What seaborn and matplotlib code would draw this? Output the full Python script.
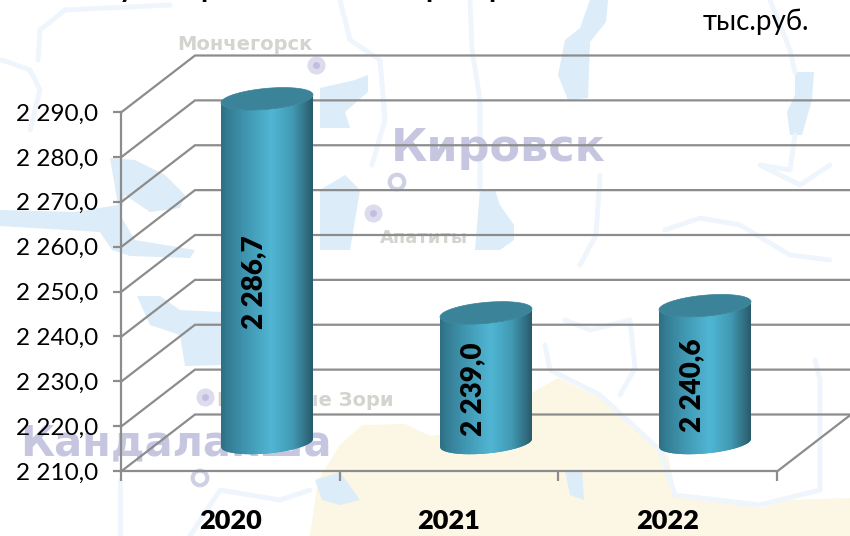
import numpy as np
import pandas as pd
import matplotlib
matplotlib.use("Agg")
import matplotlib.pyplot as plt
import seaborn as sns
from matplotlib.patches import Polygon, PathPatch
from matplotlib.path import Path
from matplotlib.colors import LinearSegmentedColormap

# ---------- data ----------
years = ["2020", "2021", "2022"]
amounts = [2286.7, 2239.0, 2240.6]
amount_labels = ["2 286,7", "2 239,0", "2 240,6"]
axis_values = [2210, 2220, 2230, 2240, 2250, 2260, 2270, 2280, 2290]
axis_labels = ["2 210,0", "2 220,0", "2 230,0", "2 240,0", "2 250,0",
               "2 260,0", "2 270,0", "2 280,0", "2 290,0"]
unit_label = "тыс.руб."

# watermark map behind the chart (picture pixels)
map_land = [
    [(310, 536), (318, 480), (340, 445), (362, 425), (405, 424), (430, 436), (470, 430), (520, 400),
     (558, 378), (600, 398), (630, 425), (668, 455), (676, 495), (700, 498), (760, 508), (790, 500),
     (850, 498), (850, 536)],
]
map_lakes = [
    [(110, 158), (135, 160), (165, 175), (185, 195), (180, 208), (150, 212), (125, 195), (120, 215),
     (135, 240), (195, 250), (190, 258), (130, 256), (112, 250), (100, 232), (0, 226), (0, 210), (75, 212), (118, 205)],
    [(137, 296), (160, 296), (180, 310), (222, 312), (222, 365), (185, 366), (180, 335), (150, 325)],
    [(590, 0), (608, 0), (606, 22), (590, 42), (588, 98), (568, 100), (558, 75), (565, 40), (580, 28)],
    [(795, 72), (814, 72), (812, 100), (802, 135), (790, 135), (787, 112), (795, 95)],
    [(480, 190), (495, 190), (500, 205), (514, 225), (514, 240), (500, 250), (475, 250)],
    [(320, 88), (355, 80), (368, 75), (368, 92), (345, 112), (350, 128), (320, 128)],
    [(320, 190), (345, 175), (360, 190), (350, 250), (320, 250)],
    [(315, 480), (340, 472), (360, 500), (340, 505), (322, 500)],
    [(565, 470), (582, 470), (584, 500), (570, 495)],
]
map_rivers = [
    [(2, 60), (30, 70), (40, 90), (30, 130)],
    [(170, 5), (65, 10), (40, 30), (38, 60)],
    [(340, 0), (350, 40), (380, 60), (385, 120), (372, 165)],
    [(470, 0), (472, 50), (480, 100), (480, 190)],
    [(770, 0), (790, 50), (795, 72)],
    [(795, 135), (790, 170), (760, 165), (800, 185), (830, 165)],
    [(665, 230), (700, 218), (740, 225), (790, 255), (830, 260)],
    [(600, 175), (596, 235), (580, 265)],
    [(565, 320), (590, 330), (630, 320), (635, 368), (620, 395)],
    [(545, 345), (550, 370), (600, 395), (660, 450), (675, 495)],
    [(675, 495), (760, 505), (820, 490), (820, 380), (815, 360)],
    [(120, 480), (120, 536)],
    [(310, 490), (280, 500), (220, 490), (190, 536)],
]
map_big_names = [("Кировск", 498, 149, 32), ("Кандалакша", 176, 443, 30)]
map_small_names = [("Мончегорск", 245, 45, 14), ("Апатиты", 424, 238, 13), ("Полярные Зори", 305, 400, 14)]
map_dots = [(316, 65), (373, 213), (205, 397)]
map_rings = [(397, 182), (200, 478)]
title_pieces = [("у", 119), ("р", 200), ("р", 425), ("р", 488)]

# ---------- look ----------
sns.set_theme(style="white")
plt.rcParams["font.family"] = ["Lato", "DejaVu Sans"]
W, H = 850, 536
fig = plt.figure(figsize=(W / 100, H / 100), dpi=100, facecolor="white")
GRID = "#8c8c8c"


def pos(x0, y_top, x1, y_bot):
    return [x0 / W, 1 - y_bot / H, (x1 - x0) / W, (y_bot - y_top) / H]


# --- map layer ---
bg = fig.add_axes([0, 0, 1, 1], zorder=0)
bg.set_xlim(0, W)
bg.set_ylim(H, 0)
bg.axis("off")
for poly in map_land:
    bg.add_patch(Polygon(poly, closed=True, fc="#fcf6e5", ec="none"))
for r in map_rivers:
    xs, ys = zip(*r)
    bg.plot(xs, ys, color="#eef5fc", lw=3.5, solid_joinstyle="round")
for poly in map_lakes:
    bg.add_patch(Polygon(poly, closed=True, fc="#dcecf9", ec="none"))
for name, x, y, fs in map_big_names:
    bg.text(x, y, name, ha="center", va="center", fontsize=fs, fontweight="bold",
            color="#c6c6e0", family="DejaVu Sans")
for name, x, y, fs in map_small_names:
    bg.text(x, y, name, ha="center", va="center", fontsize=fs, color="#d4d4cf", fontweight="bold",
            family="DejaVu Sans")
dx_, dy_ = zip(*map_dots)
bg.scatter(dx_, dy_, s=170, color="#dcdcee", linewidths=0)
bg.scatter(dx_, dy_, s=25, color="#c0c0de", linewidths=0)
rx_, ry_ = zip(*map_rings)
bg.scatter(rx_, ry_, s=110, facecolors="none", edgecolors="#d0d0e4", linewidths=3)

# --- plane through the middle of the 3D depth: the bars live here ---
PX_PER_UNIT = 4.4875
PX_PER_CAT = 219.0
BASE_PX = 443.0
FIRST_PX = 267.0
ax = fig.add_axes([0, 0, 1, 1], zorder=1)
ax.patch.set_alpha(0)
df = pd.DataFrame({"year": years, "amount": amounts})
sns.barplot(data=df, x="year", y="amount", ax=ax, color="#3f96ae", width=92 / PX_PER_CAT,
            saturation=1, errorbar=None, zorder=5)
xlim = (-FIRST_PX / PX_PER_CAT, (W - FIRST_PX) / PX_PER_CAT)
ylim = (2210 - (H - BASE_PX) / PX_PER_UNIT, 2210 + BASE_PX / PX_PER_UNIT)
ax.axis("off")

# depth offset of the 3D box, in data units
DX = 37.0 / PX_PER_CAT
DY = 28.5 / PX_PER_UNIT
left_f = 121.0 / PX_PER_CAT + xlim[0]
right_f = 777.0 / PX_PER_CAT + xlim[0]
for v in axis_values:
    ax.plot([left_f, left_f + 2 * DX, xlim[1]], [v - DY, v + DY, v + DY], color=GRID, lw=1.6, zorder=2,
            solid_joinstyle="miter", clip_on=False)
ax.plot([right_f, right_f + 2 * DX], [axis_values[0] - DY, axis_values[0] + DY], color=GRID, lw=1.6, zorder=2)

# cylinders
shade = LinearSegmentedColormap.from_list(
    "cyl", [(0, "#2f6e82"), (0.06, "#337b91"), (0.25, "#3f94ae"), (0.55, "#50b6d4"),
            (0.78, "#419ab3"), (0.93, "#316f83"), (1, "#285a6a")])
ramp = np.linspace(0, 1, 256)[None, :]
TILT = 4.0 / PX_PER_UNIT
MINOR = 10.5 / PX_PER_UNIT
tt_low = np.linspace(np.pi, 2 * np.pi, 80)
tt_up = np.linspace(0, np.pi, 80)
for patch, val, lab in zip(ax.patches, amounts, amount_labels):
    cx = patch.get_x() + patch.get_width() / 2
    a = patch.get_width() / 2
    base = axis_values[0]
    low = np.column_stack([cx + a * np.cos(tt_low), base + TILT * np.cos(tt_low) + MINOR * np.sin(tt_low)])
    top_upper = np.column_stack([cx + a * np.cos(tt_up), val + TILT * np.cos(tt_up) + MINOR * np.sin(tt_up)])
    top_lower = np.column_stack([cx + a * np.cos(tt_low), val + TILT * np.cos(tt_low) + MINOR * np.sin(tt_low)])
    body_path = Path(np.vstack([low, top_lower[::-1], low[:1]]))
    patch.set_clip_path(body_path, ax.transData)
    im = ax.imshow(ramp, cmap=shade, aspect="auto", zorder=6, interpolation="bilinear",
                   extent=[cx - a, cx + a, base - 5, val + 5])
    im.set_clip_path(PathPatch(body_path, transform=ax.transData))
    ax.add_patch(Polygon(np.vstack([top_upper, top_lower]), closed=True,
                         fc="#3a8398", ec="#3a8398", lw=0.5, zorder=7))
    ax.annotate(lab, xy=(cx, (base + val) / 2), xytext=(-13 * 0.72, -11 * 0.72), textcoords="offset points",
                rotation=90, ha="center", va="center", fontsize=20, fontweight="heavy", color="black", zorder=8)
ax.set_xlim(*xlim)
ax.set_ylim(*ylim)

# --- front face of the 3D box: carries the axes with their labels ---
front = fig.add_axes(pos(121, 112.0, 777, 471), zorder=2)
front.patch.set_alpha(0)
front.set_ylim(2210, 2290)
front.set_xlim(0, 3)
sns.despine(ax=front, top=True, right=True)
for side in ("left", "bottom"):
    front.spines[side].set_color(GRID)
    front.spines[side].set_linewidth(1.6)
front.set_yticks(axis_values)
front.set_yticklabels(axis_labels, fontsize=17.5)
front.set_xticks([0, 1, 2, 3])
front.set_xticklabels([])
front.set_xticks([0.5, 1.5, 2.5], labels=years, minor=True)
front.tick_params(axis="y", length=5.5, width=1.6, color=GRID, pad=11, labelcolor="black", left=True)
front.tick_params(axis="x", which="major", length=7.5, width=1.6, color=GRID, bottom=True)
front.tick_params(axis="x", which="minor", length=0, pad=27.5, labelsize=19.5, labelcolor="black", bottom=True)
for t in front.get_xticklabels(minor=True):
    t.set_fontweight("heavy")

# --- free texts ---
top = fig.add_axes([0, 0, 1, 1], zorder=3)
top.set_xlim(0, W)
top.set_ylim(H, 0)
top.axis("off")
top.text(756, 22, unit_label, ha="center", va="center", fontsize=20, color="black")
for ch, x in title_pieces:
    top.text(x, -2.5, ch, ha="left", va="baseline", fontsize=21, fontweight="bold", color="black")

fig.savefig("out.png", dpi=100)
